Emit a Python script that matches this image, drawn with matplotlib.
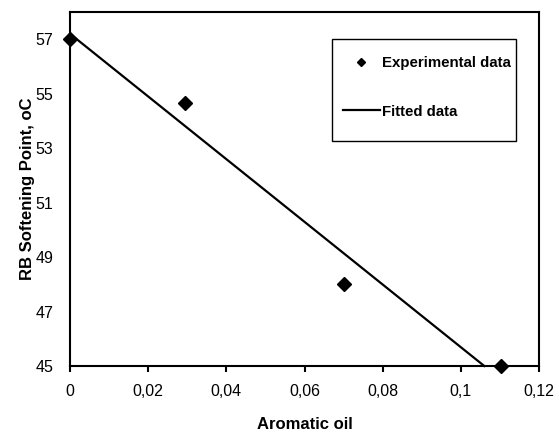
import matplotlib
matplotlib.use("Agg")
import matplotlib.pyplot as plt
from matplotlib.lines import Line2D
from matplotlib.patches import Rectangle

# Data
aromatic_oil = [0.0, 0.0295, 0.070, 0.1104]
softening_point = [57.0, 54.66, 48.0, 45.0]
fit_x = [0.0, 0.1060]
fit_y = [57.2, 45.0]
x_ticks = [0, 0.02, 0.04, 0.06, 0.08, 0.1, 0.12]
x_tick_labels = ["0", "0,02", "0,04", "0,06", "0,08", "0,1", "0,12"]
y_ticks = [45, 47, 49, 51, 53, 55, 57]

plt.rcParams['font.family'] = ['Liberation Sans', 'DejaVu Sans']

fig = plt.figure(figsize=(5.59, 4.32), dpi=100)
ax = fig.add_axes([70/559, 1 - 366/432, 469/559, 354/432])

ax.plot(fit_x, fit_y, color='black', lw=1.6, clip_on=False, zorder=2)
ax.plot(aromatic_oil, softening_point, linestyle='none', marker='D',
        markersize=7, color='black', clip_on=False, zorder=3)

ax.set_xlim(0, 0.12)
ax.set_ylim(45, 58)
ax.set_xticks(x_ticks)
ax.set_xticklabels(x_tick_labels)
ax.set_yticks(y_ticks)

for s in ax.spines.values():
    s.set_linewidth(1.5)
    s.set_color('black')

ax.tick_params(axis='x', direction='out', length=4, width=1.5, pad=9,
               labelsize=11.5, colors='black')
ax.tick_params(axis='y', length=0, pad=12, labelsize=11.5, colors='black')

ax.set_xlabel('Aromatic oil', fontsize=12, fontweight='bold', labelpad=13)
ax.set_ylabel('RB Softening Point, oC', fontsize=12, fontweight='bold', labelpad=0)

# Legend box
ax.add_patch(Rectangle(((332-70)/469, (366-141)/354), (516-332)/469, (141-39)/354,
                       transform=ax.transAxes, fill=False, lw=1.0,
                       edgecolor='black', zorder=4))
handles = [
    Line2D([], [], linestyle='none', marker='D', markersize=4.5, color='black'),
    Line2D([], [], color='black', lw=1.6),
]
ax.legend(handles, ['Experimental data', 'Fitted data'],
          loc='upper left', bbox_to_anchor=((343-70)/469, (366-56)/354),
          frameon=False, borderpad=0, borderaxespad=0,
          handlelength=2.45, handletextpad=0.15, labelspacing=2.3,
          prop={'weight': 'bold', 'size': 10.8})

fig.savefig('out.png', dpi=100)
